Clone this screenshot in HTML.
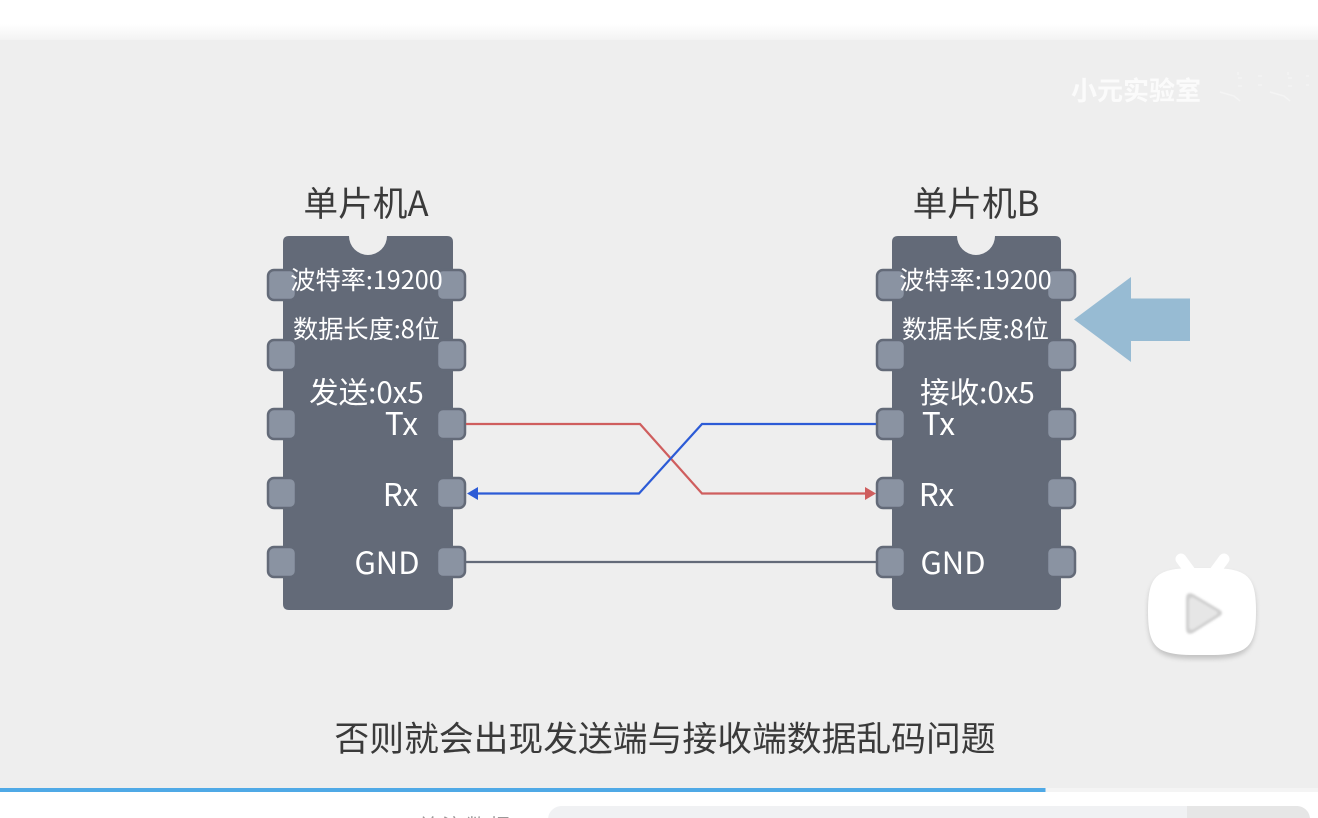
<!DOCTYPE html>
<html>
<head>
<meta charset="utf-8">
<style>
html,body{margin:0;padding:0;background:#fff;width:1318px;height:818px;overflow:hidden}
svg{display:block}
text{font-family:"Noto Sans CJK SC","Liberation Sans",sans-serif}
.t{fill:#3a3a3a;font-size:34.700px;text-anchor:middle}
.w{fill:#fff;text-anchor:middle}
</style>
</head>
<body>
<svg width="1318" height="818" viewBox="0 0 1318 818" xmlns="http://www.w3.org/2000/svg">
<defs>
<linearGradient id="fade" x1="0" y1="0" x2="0" y2="1"><stop offset="0" stop-color="#fff"/><stop offset="1" stop-color="#f3f3f3"/></linearGradient>
<filter id="sh" x="-20%" y="-20%" width="140%" height="140%"><feGaussianBlur stdDeviation="2.5"/></filter>
<filter id="b1" x="-20%" y="-20%" width="140%" height="140%"><feGaussianBlur stdDeviation="1"/></filter>
<filter id="b0" x="-5%" y="-5%" width="110%" height="110%"><feGaussianBlur stdDeviation="0.3"/></filter>
</defs>
<rect width="1318" height="818" fill="#fff"/>
<rect x="0" y="24" width="1318" height="16" fill="url(#fade)"/>
<rect x="0" y="40" width="1318" height="748" fill="#eee"/>
<rect x="0" y="788" width="1318" height="4" fill="#f4f4f4"/>
<rect x="0" y="788" width="1045.500" height="4" fill="#4fa9e6"/>
<path d="M548 818V820C548 812 554 806 562 806H1296C1304 806 1310 812 1310 820V818Z" fill="#f0f1f3"/>
<path d="M1187 806H1296C1304 806 1309 811 1310 818H1187Z" fill="#e6e6e6"/>
<text x="466" y="833" font-size="20" letter-spacing="4" fill="#999" text-anchor="middle">关注数据</text>

<text x="1136" y="100" font-size="26" font-weight="700" fill="#fbfbfb" text-anchor="middle" filter="url(#b0)">小元实验室</text>
<g fill="none" stroke="#f4f4f4" stroke-width="1.500" filter="url(#b0)">
<path d="M1220 92l14 4 6 5M1238 72v3M1238 78h4M1238 86h4M1258 76h4M1258 85h4M1270 92l14 4 6 5M1288 72v3M1288 78h4M1288 86h4M1306 76h3M1306 85h3"/>
</g>

<text class="t" x="366" y="216">单片机A</text>
<text class="t" x="976" y="216">单片机B</text>

<path d="M289 236H349A19 19 0 0 0 387 236H447Q453 236 453 242V604Q453 610 447 610H289Q283 610 283 604V242Q283 236 289 236Z" fill="#636a78"/>
<path d="M898 236H957A19 19 0 0 0 995 236H1055Q1061 236 1061 242V604Q1061 610 1055 610H898Q892 610 892 604V242Q892 236 898 236Z" fill="#636a78"/>

<g fill="#8a93a2" stroke="#636a78" stroke-width="2.500">
<rect x="268" y="270" width="28" height="30" rx="6"/><rect x="437" y="270" width="28" height="30" rx="6"/>
<rect x="268" y="340" width="28" height="30" rx="6"/><rect x="437" y="340" width="28" height="30" rx="6"/>
<rect x="268" y="409" width="28" height="30" rx="6"/><rect x="437" y="409" width="28" height="30" rx="6"/>
<rect x="268" y="478" width="28" height="30" rx="6"/><rect x="437" y="478" width="28" height="30" rx="6"/>
<rect x="268" y="547" width="28" height="30" rx="6"/><rect x="437" y="547" width="28" height="30" rx="6"/>
<rect x="877" y="270" width="28" height="30" rx="6"/><rect x="1047" y="270" width="28" height="30" rx="6"/>
<rect x="877" y="340" width="28" height="30" rx="6"/><rect x="1047" y="340" width="28" height="30" rx="6"/>
<rect x="877" y="409" width="28" height="30" rx="6"/><rect x="1047" y="409" width="28" height="30" rx="6"/>
<rect x="877" y="478" width="28" height="30" rx="6"/><rect x="1047" y="478" width="28" height="30" rx="6"/>
<rect x="877" y="547" width="28" height="30" rx="6"/><rect x="1047" y="547" width="28" height="30" rx="6"/>
</g>

<path d="M466 424H640L702 493.500H866" fill="none" stroke="#cf5e5e" stroke-width="2.200"/>
<path d="M876 424H702L639 493.500H476" fill="none" stroke="#2c5bd6" stroke-width="2.200"/>
<path d="M466 562H877" fill="none" stroke="#636a78" stroke-width="2.200"/>
<path d="M467 493.500L478 487V500Z" fill="#2c5bd6"/>
<path d="M876 493.500L865 487V500Z" fill="#cf5e5e"/>

<text class="w" x="366.500" y="289" font-size="25.200">波特率:19200</text>
<text class="w" x="366.500" y="338" font-size="25.200">数据长度:8位</text>
<text class="w" x="975.500" y="289" font-size="25.200">波特率:19200</text>
<text class="w" x="975.500" y="338" font-size="25.200">数据长度:8位</text>
<text class="w" x="366.500" y="403" font-size="29.500">发送:0x5</text>
<text class="w" x="977.500" y="403" font-size="29.500">接收:0x5</text>
<text class="w" x="401.500" y="435" font-size="31.500">Tx</text>
<text class="w" x="400.500" y="506" font-size="31.500">Rx</text>
<text class="w" x="387" y="574" font-size="31">GND</text>
<text class="w" x="938.500" y="435" font-size="31.500">Tx</text>
<text class="w" x="936.500" y="506" font-size="31.500">Rx</text>
<text class="w" x="953" y="574" font-size="31">GND</text>

<path d="M1074 319.500L1131 277V298.500H1190V341H1131V362Z" fill="#97bbd3"/>

<path d="M1148 612C1148 580 1156 571 1190 570H1214C1248 571 1256 580 1256 612C1256 648 1248 657 1214 658H1190C1156 657 1148 648 1148 612Z" fill="#c4c4c4" filter="url(#sh)" transform="translate(0,1)"/>
<path d="M1181 559L1192 574M1224 559L1213 574" fill="none" stroke="#fff" stroke-width="11" stroke-linecap="round"/>
<path d="M1148 611C1148 577 1156 569 1190 568H1214C1248 569 1256 577 1256 611C1256 647 1248 654 1214 655H1190C1156 654 1148 647 1148 611Z" fill="#fff"/>
<path d="M1193 594L1220 610Q1224 613 1220 616L1193 633Q1186 636 1186 628V599Q1186 591 1193 594Z" fill="#d0d0d0" filter="url(#b1)"/>
<path d="M1194 598L1216 611Q1219 613 1216 615L1194 629Q1189 631 1189 626V602Q1189 596 1194 598Z" fill="#e6e6e6" filter="url(#b1)"/>

<text x="665" y="751" font-size="34.800" fill="#3a3a3a" text-anchor="middle">否则就会出现发送端与接收端数据乱码问题</text>
</svg>
</body>
</html>
